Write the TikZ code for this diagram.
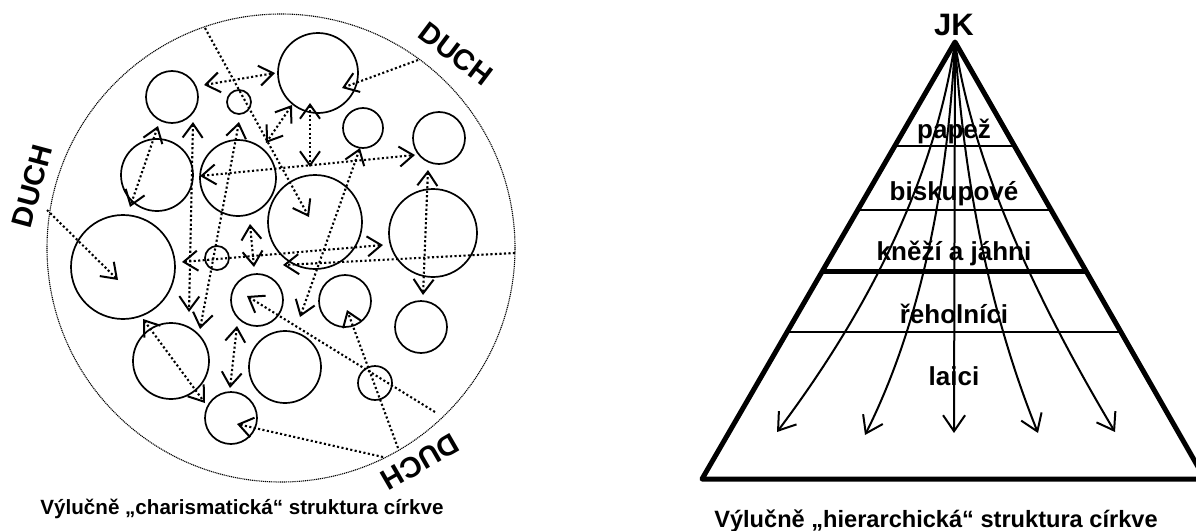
\documentclass[tikz,border=0pt]{standalone}
\usepackage{fontspec}
\setmainfont{Liberation Sans}
\usetikzlibrary{arrows.meta}
\begin{document}
\begin{tikzpicture}[x=1pt,y=-1pt,
  nodecirc/.style={circle,draw,line width=1.7pt,inner sep=0pt},
  rimcirc/.style={circle,draw,line width=1.1pt,dash pattern=on 1.1pt off 0.8pt,inner sep=0pt,minimum size=468pt},
  dotarr/.style={line width=2.1pt,dash pattern=on 2.1pt off 2.4pt,
     >={Straight Barb[length=14pt,width=20pt,line width=2pt]}},
  spiritlbl/.style={font=\bfseries\fontsize{29}{32}\selectfont,inner sep=0pt},
  lvl/.style={font=\bfseries\fontsize{26}{30}\selectfont,inner sep=0pt,anchor=base},
  solarr/.style={line width=2pt,
     >={Straight Barb[length=16pt,width=22pt,line width=2pt]}}
]
\useasboundingbox (0,0) rectangle (1196,530);
\clip (0,0) rectangle (1196,530);

% ---------- left: charismatic ----------
\node[rimcirc] (rim) at (281,248) {};
\node[nodecirc,minimum size=52pt]  (c1)  at (172,97)  {};
\node[nodecirc,minimum size=24pt]  (c2)  at (239,102) {};
\node[nodecirc,minimum size=72pt]  (c3)  at (157,175) {};
\node[nodecirc,minimum size=76pt]  (c4)  at (238,178) {};
\node[nodecirc,minimum size=80pt]  (c5)  at (318,73)  {};
\node[nodecirc,minimum size=40pt]  (c6)  at (363,128) {};
\node[nodecirc,minimum size=52pt]  (c7)  at (439,138) {};
\node[nodecirc,minimum size=94pt]  (c8)  at (315,222) {};
\node[nodecirc,minimum size=88pt]  (c9)  at (433,233) {};
\node[nodecirc,minimum size=104pt] (c10) at (123,267) {};
\node[nodecirc,minimum size=24pt]  (c11) at (217,258) {};
\node[nodecirc,minimum size=52pt]  (c12) at (257,300) {};
\node[nodecirc,minimum size=52pt]  (c13) at (345,301) {};
\node[nodecirc,minimum size=52pt]  (c14) at (421,327) {};
\node[nodecirc,minimum size=76pt]  (c15) at (171,361) {};
\node[nodecirc,minimum size=72pt]  (c16) at (285,367) {};
\node[nodecirc,minimum size=34pt]  (c17) at (375,383) {};
\node[nodecirc,minimum size=52pt]  (c18) at (231,418) {};

% double-headed links between circles
\draw[dotarr,<->] (204,85) -- (275,73);
\draw[dotarr,<->] (158,126) -- (130,207);
\draw[dotarr,<->] (193,122) -- (189,312);
\draw[dotarr,<->] (239,122) -- (200,329);
\draw[dotarr,<->] (200,176) -- (415,155);
\draw[dotarr,<->] (292,105) -- (266,143);
\draw[dotarr,<->] (310,103) -- (310,167);
\draw[dotarr,<->] (360,148) -- (300,317);
\draw[dotarr,<->] (428,170) -- (423,295);
\draw[dotarr,<->] (182,262) -- (383,245);
\draw[dotarr,<->] (250,224) -- (254,267);
\draw[dotarr,<->] (237,326) -- (230,388);
\draw[dotarr,<->] (143,319) -- (205,403);

% spirit lines from the rim
\coordinate (r1) at (205,28);
\coordinate (r2) at (418,60);
\coordinate (r3) at (47,210);
\coordinate (r4) at (398,448);
\coordinate (r5) at (435,412);
\coordinate (r6) at (383,457);
\coordinate (r7) at (515,253);
\draw[dotarr,->] (r1) -- (309,217);
\draw[dotarr,->] (r2) -- (342,88);
\draw[dotarr,->] (r3) -- (118,280);
\draw[dotarr,->] (r4) -- (347,310);
\draw[dotarr,->] (r5) -- (247,296);
\draw[dotarr,->] (r6) -- (237,424);
\draw[dotarr,->] (r7) -- (283,265);

\node[spiritlbl,rotate=-37] (duch1) at (456,54) {DUCH};
\node[spiritlbl,rotate=75]  (duch2) at (32,186) {DUCH};
\node[spiritlbl,rotate=-150] (duch3) at (420,462) {DUCH};

\node[font=\bfseries\fontsize{20.6}{24}\selectfont,inner sep=0pt,anchor=base] (capL) at (242,514)
  {Výlučně „charismatická“ struktura církve};

% ---------- right: hierarchical ----------
\draw[line width=1.5pt] (895,146) -- (1015,146);
\draw[line width=1.5pt] (858,210) -- (1052,210);
\draw[line width=5pt]   (823,271) -- (1087,271);
\draw[line width=1.5pt] (788,332) -- (1122,332);
\draw[line width=5pt,line join=round] (702,479) -- (955,42) -- (1205,479) -- cycle;

\coordinate (apex) at (955,42);
\draw[solarr,->] (apex) -- (954,433);
\draw[solarr,->] (apex) .. controls (936,169) and (877,299) .. (777,432);
\draw[solarr,->] (apex) .. controls (947,200) and (917,331) .. (865,435);
\draw[solarr,->] (apex) .. controls (964,186) and (991,316) .. (1038,433);
\draw[solarr,->] (apex) .. controls (971,152) and (1025,281) .. (1115,432);

\node[font=\bfseries\fontsize{31}{36}\selectfont,inner sep=0pt,anchor=base] (jk) at (954,35) {JK};
\node[lvl] (l1) at (954,138) {papež};
\node[lvl] (l2) at (954,200) {biskupové};
\node[lvl] (l3) at (954,260) {kněží a jáhni};
\node[lvl] (l4) at (954,323) {řeholníci};
\node[lvl] (l5) at (954,385) {laici};

\node[font=\bfseries\fontsize{23.6}{28}\selectfont,inner sep=0pt,anchor=base] (capR) at (936,527)
  {Výlučně „hierarchická“ struktura církve};
\end{tikzpicture}
\end{document}
